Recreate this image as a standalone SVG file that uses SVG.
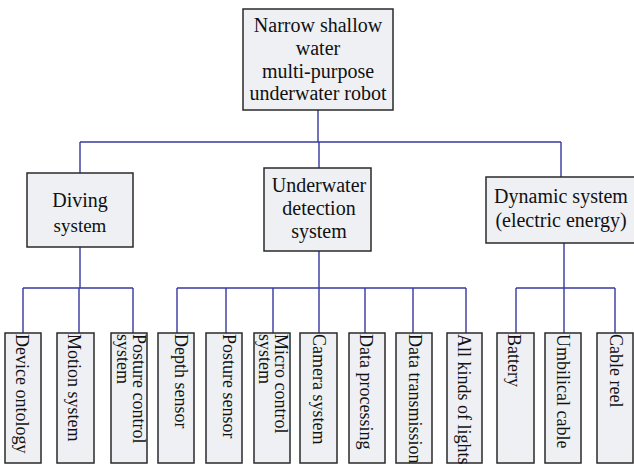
<svg xmlns="http://www.w3.org/2000/svg" width="634" height="464" viewBox="0 0 634 464">
<style>
.box{fill:#EEF0F4;stroke:#2a2a2a;stroke-width:1.5}
.t{font-family:'Liberation Serif','Times New Roman','DejaVu Serif',serif;font-size:20px;fill:#111;text-anchor:middle}
.v{font-family:'Liberation Serif','Times New Roman','DejaVu Serif',serif;font-size:18px;fill:#111}
.c{fill:none;stroke:#3838A0;stroke-width:1.4}
</style>
<rect width="634" height="464" fill="#fff"/>
<g id="connectors">
<path class="c" d="M318 110V142M80 142H561M80 142V173M319 142V168M561 142V177"/>
<path class="c" d="M80 247V288M23 288H133M23 288V333M79 288V333M133 288V333"/>
<path class="c" d="M319 251V288M177 288H466M177 288V333M226 288V333M273 288V333M319 288V333M365 288V333M413 288V333M466 288V333"/>
<path class="c" d="M564 243V288M516 288H615M516 288V333M564 288V333M615 288V333"/>
</g>
<g id="root"><rect class="box" x="243" y="9" width="150" height="101"/>
<text class="t" x="318" y="32">Narrow shallow</text><text class="t" x="318" y="55">water</text><text class="t" x="318" y="78">multi-purpose</text><text class="t" x="318" y="100">underwater robot</text></g>
<g id="diving"><rect class="box" x="27" y="173" width="106" height="74"/>
<text class="t" x="80" y="207">Diving</text><text class="t" x="80" y="232" style="font-size:19px">system</text></g>
<g id="detection"><rect class="box" x="264" y="168" width="107" height="83"/>
<text class="t" x="319" y="192">Underwater</text><text class="t" x="319" y="215">detection</text><text class="t" x="319" y="238">system</text></g>
<g id="dynamic"><rect class="box" x="486" y="177" width="150" height="66"/>
<text class="t" x="561" y="203">Dynamic system</text><text class="t" x="561" y="227">(electric energy)</text></g>
<g id="leaf1"><rect class="box" x="5" y="333" width="36" height="130"/><text class="v" transform="translate(16 334) rotate(90)">Device ontology</text></g>
<g id="leaf2"><rect class="box" x="57" y="333" width="37" height="130"/><text class="v" transform="translate(68 334) rotate(90)">Motion system</text></g>
<g id="leaf3"><rect class="box" x="111" y="333" width="36" height="130"/><text class="v" transform="translate(133 334) rotate(90)">Posture control</text><text class="v" transform="translate(117 334) rotate(90)">system</text></g>
<g id="leaf4"><rect class="box" x="158" y="333" width="36" height="130"/><text class="v" transform="translate(175 334) rotate(90)">Depth sensor</text></g>
<g id="leaf5"><rect class="box" x="206" y="333" width="36" height="130"/><text class="v" transform="translate(223 334) rotate(90)">Posture sensor</text></g>
<g id="leaf6"><rect class="box" x="254" y="333" width="36" height="130"/><text class="v" transform="translate(275 334) rotate(90)">Micro control</text><text class="v" transform="translate(259 334) rotate(90)">system</text></g>
<g id="leaf7"><rect class="box" x="300" y="333" width="37" height="130"/><text class="v" transform="translate(313 334) rotate(90)">Camera system</text></g>
<g id="leaf8"><rect class="box" x="349" y="333" width="36" height="130"/><text class="v" transform="translate(360 334) rotate(90)">Data processing</text></g>
<g id="leaf9"><rect class="box" x="396" y="333" width="36" height="130"/><text class="v" transform="translate(409 334) rotate(90)">Data transmission</text></g>
<g id="leaf10"><rect class="box" x="447" y="333" width="35" height="130"/><text class="v" transform="translate(458 334) rotate(90)">All kinds of lights</text></g>
<g id="leaf11"><rect class="box" x="497" y="333" width="37" height="130"/><text class="v" transform="translate(508 334) rotate(90)">Battery</text></g>
<g id="leaf12"><rect class="box" x="545" y="333" width="36" height="130"/><text class="v" transform="translate(557 334) rotate(90)">Umbilical cable</text></g>
<g id="leaf13"><rect class="box" x="597" y="333" width="36" height="130"/><text class="v" transform="translate(610 334) rotate(90)">Cable reel</text></g>
</svg>
